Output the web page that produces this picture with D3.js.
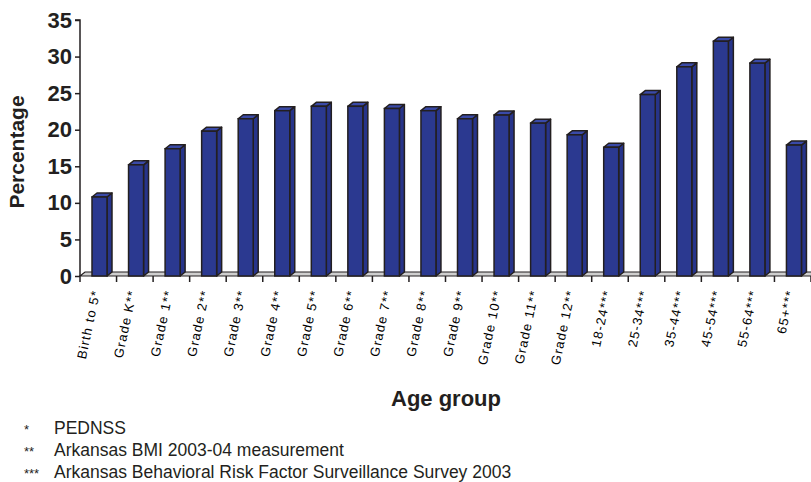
<!DOCTYPE html>
<html>
<head>
<meta charset="utf-8">
<script src="https://cdn.jsdelivr.net/npm/d3@7"></script>
<style>
  html, body { margin: 0; padding: 0; background: #ffffff; }
  svg { display: block; font-family: Arial, "Liberation Sans", sans-serif; }
</style>
</head>
<body>
<svg id="chart" width="811" height="482"></svg>
<script>
// Share of children and adults classed as obese, by age group (Arkansas)
const categories = [
  "Birth to 5*", "Grade K**", "Grade 1**", "Grade 2**", "Grade 3**",
  "Grade 4**", "Grade 5**", "Grade 6**", "Grade 7**", "Grade 8**",
  "Grade 9**", "Grade 10**", "Grade 11**", "Grade 12**",
  "18-24***", "25-34***", "35-44***", "45-54***", "55-64***", "65+***"
];
const percentages = [
  10.8, 15.2, 17.4, 19.8, 21.5,
  22.6, 23.2, 23.2, 22.9, 22.6,
  21.5, 22.0, 20.9, 19.3,
  17.6, 24.8, 28.6, 32.1, 29.1, 17.9
];
const yTicks = [0, 5, 10, 15, 20, 25, 30, 35];
const footnotes = [
  { mark: "*", text: "PEDNSS" },
  { mark: "**", text: "Arkansas BMI 2003-04 measurement" },
  { mark: "***", text: "Arkansas Behavioral Risk Factor Surveillance Survey 2003" }
];

const svg = d3.select("#chart");
const ink = "#231f20";
const barFront = "#2b3990";
const barSide = "#27348a";
const barTop = "#3a4aa8";

const plot = { left: 80, right: 811, top: 20, bottom: 276 };
const depth = { dx: 5, dy: -4 };

const x = d3.scaleBand()
  .domain(categories)
  .range([plot.left, plot.right])
  .paddingInner(0).paddingOuter(0);

const y = d3.scaleLinear()
  .domain([0, 35])
  .range([plot.bottom, plot.top]);

const bw = x.bandwidth();
const barOffset = 12;
const barWidth = 15;

// Floor slab
svg.append("path")
  .attr("d", `M${plot.left},${plot.bottom} L${plot.right + 10},${plot.bottom} L${plot.right + 10},${plot.bottom + depth.dy} L${plot.left + depth.dx},${plot.bottom + depth.dy} Z`)
  .attr("fill", "#cfcfcf")
  .attr("stroke", ink)
  .attr("stroke-width", 1.2);

// Category ticks under the floor
svg.append("g")
  .selectAll("line")
  .data(d3.range(categories.length + 1))
  .join("line")
  .attr("x1", i => plot.left + i * bw)
  .attr("x2", i => plot.left + i * bw)
  .attr("y1", plot.bottom)
  .attr("y2", plot.bottom + 6)
  .attr("stroke", ink)
  .attr("stroke-width", 1.5);

// Bars drawn as boxes: front face, right side and top
const bars = svg.append("g")
  .selectAll("g")
  .data(categories.map((c, i) => ({ c, v: percentages[i] })))
  .join("g");

bars.append("path") // side
  .attr("d", d => {
    const x1 = x(d.c) + barOffset + barWidth;
    const yt = y(d.v), yb = y(0);
    return `M${x1},${yb} L${x1 + depth.dx},${yb + depth.dy} L${x1 + depth.dx},${yt + depth.dy} L${x1},${yt} Z`;
  })
  .attr("fill", barSide)
  .attr("stroke", ink)
  .attr("stroke-width", 1.5)
  .attr("stroke-linejoin", "round");

bars.append("path") // top
  .attr("d", d => {
    const x0 = x(d.c) + barOffset, x1 = x0 + barWidth;
    const yt = y(d.v);
    return `M${x0},${yt} L${x0 + depth.dx},${yt + depth.dy} L${x1 + depth.dx},${yt + depth.dy} L${x1},${yt} Z`;
  })
  .attr("fill", barTop)
  .attr("stroke", ink)
  .attr("stroke-width", 1.5)
  .attr("stroke-linejoin", "round");

bars.append("rect") // front
  .attr("x", d => x(d.c) + barOffset)
  .attr("y", d => y(d.v))
  .attr("width", barWidth)
  .attr("height", d => y(0) - y(d.v))
  .attr("fill", barFront)
  .attr("stroke", ink)
  .attr("stroke-width", 1.5);

// Y axis
const yAxis = d3.axisLeft(y).tickValues(yTicks).tickSize(5).tickPadding(3);
const gy = svg.append("g")
  .attr("transform", `translate(${plot.left},0)`)
  .call(yAxis);
gy.select(".domain").attr("stroke", ink).attr("stroke-width", 1.5)
  .attr("d", `M-5,${plot.top}H0V${plot.bottom}`);
gy.selectAll(".tick line").attr("stroke", ink).attr("stroke-width", 1.5);
gy.selectAll(".tick text")
  .attr("fill", ink)
  .attr("font-size", 22)
  .attr("font-weight", "bold")
  .attr("font-family", "Arial, 'Liberation Sans', sans-serif");

// Category labels, steeply rotated
svg.append("g")
  .selectAll("text")
  .data(categories)
  .join("text")
  .attr("transform", d => `translate(${x(d) + bw / 2 + 2},${plot.bottom + 15}) rotate(-78)`)
  .attr("text-anchor", "end")
  .attr("font-size", 13)
  .attr("letter-spacing", 1.2)
  .attr("fill", "#000")
  .text(d => d);

// Axis titles
svg.append("text")
  .attr("transform", `translate(24,${(plot.top + plot.bottom) / 2 + 4}) rotate(-90)`)
  .attr("text-anchor", "middle")
  .attr("font-size", 21)
  .attr("font-weight", "bold")
  .attr("fill", ink)
  .text("Percentage");

svg.append("text")
  .attr("x", 446)
  .attr("y", 406)
  .attr("text-anchor", "middle")
  .attr("font-size", 22)
  .attr("font-weight", "bold")
  .attr("fill", ink)
  .text("Age group");

// Source footnotes
const notes = svg.append("g")
  .selectAll("g")
  .data(footnotes)
  .join("g")
  .attr("transform", (d, i) => `translate(0,${434 + i * 22})`);
notes.append("text")
  .attr("x", 24)
  .attr("y", 0)
  .attr("font-size", 13)
  .attr("fill", ink)
  .text(d => d.mark);
notes.append("text")
  .attr("x", 54)
  .attr("y", 0)
  .attr("font-size", 17.5)
  .attr("fill", ink)
  .text(d => d.text);
</script>
</body>
</html>
